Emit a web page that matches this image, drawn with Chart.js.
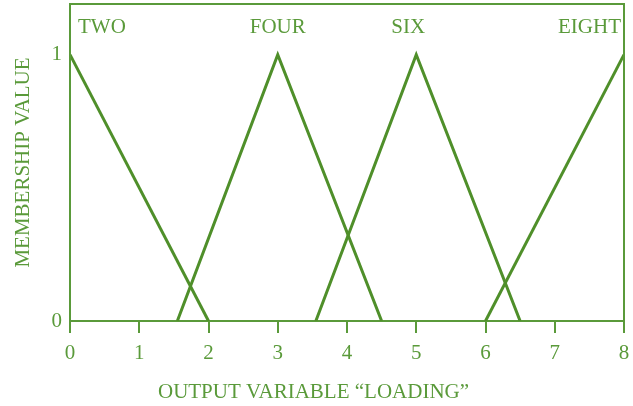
<!DOCTYPE html>
<html>
<head>
<meta charset="utf-8">
<script src="https://cdn.jsdelivr.net/npm/chart.js@4"></script>
<style>
  html, body { margin: 0; padding: 0; background: #fff; }
  #wrap { width: 633px; height: 406px; }
</style>
</head>
<body>
<div id="wrap"><canvas id="myChart" width="633" height="406"></canvas></div>
<script>
  // membership functions (x = loading, y = membership)
  const setNames = ['TWO', 'FOUR', 'SIX', 'EIGHT'];
  const twoX = [0, 2];
  const twoY = [1, 0];
  const fourX = [1.55, 3, 4.5];
  const fourY = [0, 1, 0];
  const sixX = [3.55, 5, 6.5];
  const sixY = [0, 1, 0];
  const eightX = [6, 8];
  const eightY = [0, 1];
  const xTicks = [0, 1, 2, 3, 4, 5, 6, 7, 8];
  const yTicks = [0, 1];
  const xTitle = 'OUTPUT VARIABLE “LOADING”';

  const green = '#5a9a3a';
  const lineGreen = '#4f8f2a';
  const font = "'Liberation Serif', 'Times New Roman', serif";

  function pts(xs, ys) {
    return xs.map((x, i) => ({ x: x, y: ys[i] }));
  }
  const series = [pts(twoX, twoY), pts(fourX, fourY), pts(sixX, sixY), pts(eightX, eightY)];

  // frame, set names and the x title (centred on the page, not the plot)
  const extras = {
    id: 'extras',
    afterDraw(chart) {
      const ctx = chart.ctx;
      const a = chart.chartArea;
      const xs = chart.scales.x, ys = chart.scales.y;
      ctx.save();
      ctx.strokeStyle = green;
      ctx.lineWidth = 2;
      ctx.beginPath();
      ctx.moveTo(a.left, a.bottom);
      ctx.lineTo(a.left, a.top);
      ctx.lineTo(a.right, a.top);
      ctx.lineTo(a.right, a.bottom);
      ctx.stroke();

      ctx.fillStyle = green;
      ctx.font = '21px ' + font;
      ctx.textBaseline = 'alphabetic';
      const yy = ys.getPixelForValue(1.083);
      series.forEach((d, i) => {
        const peak = d.find(p => p.y === 1);
        let x = xs.getPixelForValue(peak.x);
        if (i === 0) { ctx.textAlign = 'left'; x += 8; }
        else if (i === series.length - 1) { ctx.textAlign = 'right'; x -= 3; }
        else { ctx.textAlign = 'center'; }
        if (i === 2) x -= 8;
        ctx.fillText(setNames[i], x, yy);
      });

      ctx.textAlign = 'center';
      ctx.textBaseline = 'middle';
      ctx.fillText(xTitle, chart.width / 2 - 3, 392);
      ctx.restore();
    }
  };

  new Chart(document.getElementById('myChart').getContext('2d'), {
    type: 'scatter',
    data: {
      datasets: series.map((d, i) => ({
        label: setNames[i],
        data: d,
        showLine: true,
        borderColor: lineGreen,
        borderWidth: 3,
        pointRadius: 0,
        fill: false
      }))
    },
    options: {
      responsive: false,
      animation: false,
      layout: { padding: { top: 4, right: 9, left: 0, bottom: 0 } },
      plugins: { legend: { display: false }, tooltip: { enabled: false } },
      scales: {
        x: {
          type: 'linear',
          min: 0,
          max: 8,
          afterBuildTicks: s => { s.ticks = xTicks.map(v => ({ value: v })); },
          afterFit: s => { s.height = 85; s.paddingLeft = 0; s.paddingRight = 0; },
          grid: { drawOnChartArea: false, drawTicks: true, tickLength: 12, color: green, lineWidth: 2 },
          border: { display: true, color: green, width: 2 },
          ticks: { color: green, font: { family: font, size: 21 }, padding: 8, maxRotation: 0 },
          title: { display: false }
        },
        y: {
          min: 0,
          max: 1.19,
          afterBuildTicks: s => { s.ticks = yTicks.map(v => ({ value: v })); },
          afterFit: s => { s.width = 70; s.paddingTop = 0; s.paddingBottom = 0; },
          grid: { display: false },
          border: { display: true, color: green, width: 2 },
          ticks: { color: green, font: { family: font, size: 21 }, padding: 0 },
          title: { display: true, text: 'MEMBERSHIP VALUE', color: green, font: { family: font, size: 21 }, padding: { top: 11, bottom: 0 } }
        }
      }
    },
    plugins: [extras]
  });
</script>
</body>
</html>
